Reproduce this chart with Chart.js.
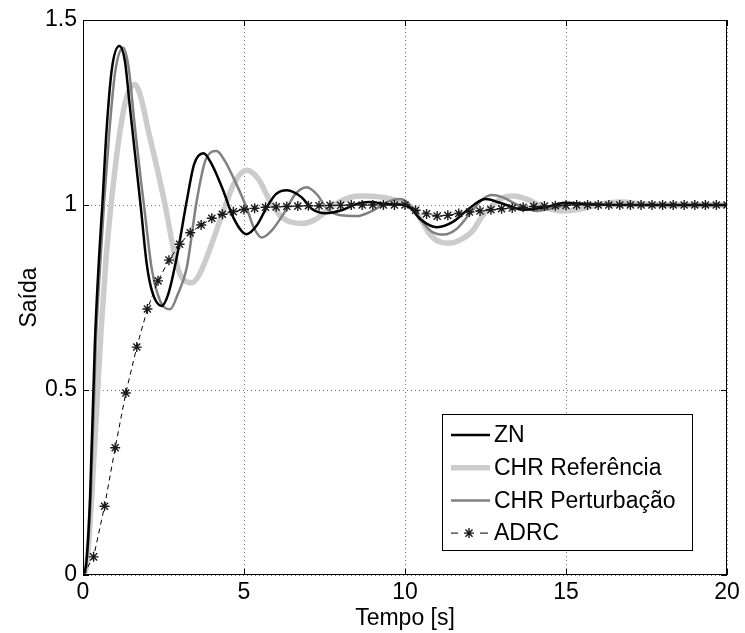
<!DOCTYPE html>
<html>
<head>
<meta charset="utf-8">
<script src="https://cdn.jsdelivr.net/npm/chart.js@4.4.0/dist/chart.umd.min.js"></script>
<style>
  html, body { margin: 0; padding: 0; background: #fff; }
  #wrap { width: 745px; height: 633px; }
</style>
</head>
<body>
<div id="wrap"><canvas id="chart" width="745" height="633"></canvas></div>
<script>
// axis ticks
const xTicks = [0, 5, 10, 15, 20];
const yTicks = [0, 0.5, 1, 1.5];
const seriesNames = ["ZN", "CHR Referência", "CHR Perturbação", "ADRC"];

// ZN
const tZN = [0, 0.1, 0.22, 0.37, 0.5, 0.6, 0.73, 0.9, 1.13, 1.3, 1.45, 1.65, 1.8, 1.98, 2.15, 2.44, 2.65, 2.91, 3.22, 3.45, 3.74, 4.0, 4.36, 4.67, 5.08, 5.4, 5.7, 6.0, 6.33, 6.8, 7.1, 7.55, 8.0, 8.5, 8.9, 9.5, 10.0, 10.2, 10.5, 11.0, 11.5, 11.9, 12.5, 12.95, 13.7, 14.3, 15.0, 15.6, 16.5, 20];
const yZN = [0, 0.03, 0.21, 0.63, 0.86, 1.0, 1.2, 1.37, 1.43, 1.39, 1.27, 1.11, 0.99, 0.84, 0.765, 0.727, 0.76, 0.858, 1.01, 1.11, 1.14, 1.11, 1.038, 0.966, 0.921, 0.945, 0.993, 1.03, 1.04, 1.02, 0.99, 0.978, 0.985, 1.003, 1.008, 1.002, 1.0, 0.99, 0.96, 0.94, 0.955, 0.984, 1.016, 1.006, 0.987, 0.993, 1.006, 1.002, 1.0, 1.0];

// CHR Referência
const tRef = [0, 0.12, 0.27, 0.56, 0.72, 0.87, 1.15, 1.35, 1.61, 1.8, 2.03, 2.3, 2.55, 2.91, 3.1, 3.38, 3.6, 3.84, 4.1, 4.36, 4.7, 5.08, 5.45, 5.81, 6.2, 6.8, 7.2, 7.57, 8.0, 8.6, 9.2, 9.84, 10.25, 10.5, 10.78, 11.1, 11.4, 11.7, 12.1, 12.4, 12.73, 13.0, 13.35, 13.8, 14.3, 14.9, 15.5, 16.1, 16.7, 17.5, 18.5, 20];
const yRef = [0, 0.03, 0.21, 0.66, 0.86, 1.0, 1.2, 1.29, 1.326, 1.29, 1.2, 1.1, 1.0, 0.84, 0.8, 0.79, 0.81, 0.858, 0.92, 0.984, 1.06, 1.094, 1.07, 1.01, 0.965, 0.95, 0.96, 0.984, 1.01, 1.024, 1.022, 1.01, 0.99, 0.96, 0.92, 0.9, 0.897, 0.905, 0.93, 0.97, 1.0, 1.018, 1.024, 1.015, 0.995, 0.984, 0.99, 1.003, 1.008, 1.002, 1.0, 1.0];

// CHR Perturbação
const tPert = [0, 0.1, 0.24, 0.4, 0.52, 0.65, 0.82, 1.0, 1.25, 1.42, 1.6, 1.78, 1.92, 2.13, 2.4, 2.7, 2.95, 3.22, 3.53, 3.8, 4.15, 4.4, 4.67, 5.08, 5.3, 5.55, 5.85, 6.22, 6.6, 6.95, 7.3, 7.57, 8.0, 8.5, 9.0, 9.5, 9.85, 10.1, 10.4, 10.8, 11.2, 11.6, 12.0, 12.4, 12.7, 13.0, 13.5, 14.1, 14.7, 15.5, 16.3, 17, 20];
const yPert = [0, 0.03, 0.21, 0.63, 0.82, 1.0, 1.2, 1.36, 1.425, 1.37, 1.22, 1.08, 0.98, 0.83, 0.74, 0.718, 0.76, 0.83, 1.01, 1.12, 1.146, 1.12, 1.074, 0.993, 0.94, 0.912, 0.93, 0.975, 1.03, 1.048, 1.025, 0.99, 0.972, 0.97, 0.985, 1.01, 1.016, 1.005, 0.97, 0.93, 0.92, 0.935, 0.975, 1.015, 1.027, 1.022, 1.0, 0.984, 0.994, 1.005, 1.001, 1.0, 1.0];

// ADRC (marker samples)
const tADRC = [0, 0.33, 0.67, 1, 1.33, 1.67, 2, 2.33, 2.67, 3, 3.33, 3.67, 4, 4.33, 4.67, 5, 5.33, 5.67, 6, 6.33, 6.67, 7, 7.33, 7.67, 8, 8.33, 8.67, 9, 9.33, 9.67, 10, 10.33, 10.67, 11, 11.33, 11.67, 12, 12.33, 12.67, 13, 13.33, 13.67, 14, 14.33, 14.67, 15, 15.33, 15.67, 16, 16.33, 16.67, 17, 17.33, 17.67, 18, 18.33, 18.67, 19, 19.33, 19.67, 20];
const yADRC = [0, 0.049, 0.186, 0.344, 0.492, 0.616, 0.719, 0.795, 0.851, 0.894, 0.925, 0.946, 0.964, 0.975, 0.982, 0.988, 0.991, 0.994, 0.995, 0.996, 0.997, 0.998, 0.998, 0.999, 0.999, 1.0, 1.0, 1.0, 1.0, 1.0, 1.0, 0.986, 0.976, 0.97, 0.972, 0.977, 0.981, 0.984, 0.987, 0.99, 0.992, 0.994, 0.996, 0.997, 0.998, 0.999, 1.0, 1.0, 1.0, 1.0, 1.0, 1.0, 1.0, 1.0, 1.0, 1.0, 1.0, 1.0, 1.0, 1.0, 1.0];

const pts = (t, y) => t.map((v, i) => ({ x: v, y: y[i] }));
const FONT = "'Liberation Sans', Arial, Helvetica, sans-serif";

function drawStar(ctx, x, y, r) {
  ctx.beginPath();
  ctx.moveTo(x - r, y); ctx.lineTo(x + r, y);
  ctx.moveTo(x, y - r); ctx.lineTo(x, y + r);
  const d = r * 0.7071;
  ctx.moveTo(x - d, y - d); ctx.lineTo(x + d, y + d);
  ctx.moveTo(x - d, y + d); ctx.lineTo(x + d, y - d);
  ctx.stroke();
}

// box, inward ticks and legend, MATLAB style
const matlabFrame = {
  id: "matlabFrame",
  afterDraw(chart) {
    const { ctx, chartArea: a, scales } = chart;
    ctx.save();
    ctx.strokeStyle = "#000";
    ctx.lineWidth = 1;
    ctx.setLineDash([]);
    ctx.strokeRect(a.left + 0.5, a.top + 0.5, a.right - a.left - 1, a.bottom - a.top - 1);
    const tl = 6;
    ctx.beginPath();
    xTicks.forEach(v => {
      const px = Math.round(scales.x.getPixelForValue(v)) + 0.5;
      ctx.moveTo(px, a.bottom); ctx.lineTo(px, a.bottom - tl);
      ctx.moveTo(px, a.top); ctx.lineTo(px, a.top + tl);
    });
    yTicks.forEach(v => {
      const py = Math.round(scales.y.getPixelForValue(v)) + 0.5;
      ctx.moveTo(a.left, py); ctx.lineTo(a.left + tl, py);
      ctx.moveTo(a.right, py); ctx.lineTo(a.right - tl, py);
    });
    ctx.stroke();

    // legend
    const lx = 442, ly = 414, lw = 250, lh = 136;
    ctx.fillStyle = "#fff";
    ctx.fillRect(lx, ly, lw, lh);
    ctx.strokeRect(lx + 0.5, ly + 0.5, lw, lh);
    ctx.font = "23px " + FONT;
    ctx.textBaseline = "middle";
    ctx.textAlign = "left";
    chart.data.datasets.forEach((ds, i) => {
      const y = ly + 21 + i * 32.7;
      ctx.strokeStyle = ds.borderColor;
      ctx.lineWidth = ds.borderWidth;
      ctx.beginPath();
      if (ds.borderDash) {
        ctx.moveTo(lx + 9, y); ctx.lineTo(lx + 16, y);
        ctx.moveTo(lx + 38, y); ctx.lineTo(lx + 46, y);
        ctx.stroke();
        ctx.strokeStyle = ds.pointBorderColor;
        ctx.lineWidth = ds.pointBorderWidth;
        drawStar(ctx, lx + 27, y, ds.pointRadius);
      } else {
        ctx.moveTo(lx + 9, y); ctx.lineTo(lx + 48, y);
        ctx.stroke();
      }
      ctx.fillStyle = "#000";
      ctx.fillText(ds.label, lx + 52, y + 1);
    });
    ctx.restore();
  }
};

new Chart(document.getElementById("chart"), {
  type: "line",
  data: {
    datasets: [
      {
        label: seriesNames[0], data: pts(tZN, yZN), order: 2,
        borderColor: "#000000", borderWidth: 2.5, pointRadius: 0,
        cubicInterpolationMode: "monotone", fill: false
      },
      {
        label: seriesNames[1], data: pts(tRef, yRef), order: 4,
        borderColor: "#cccccc", borderWidth: 5.5, pointRadius: 0,
        cubicInterpolationMode: "monotone", fill: false
      },
      {
        label: seriesNames[2], data: pts(tPert, yPert), order: 3,
        borderColor: "#808080", borderWidth: 2.5, pointRadius: 0,
        cubicInterpolationMode: "monotone", fill: false
      },
      {
        label: seriesNames[3], data: pts(tADRC, yADRC), order: 1,
        borderColor: "#000000", borderWidth: 1, borderDash: [5, 4],
        pointStyle: "star", pointRadius: 5, pointBorderWidth: 1.4,
        pointBorderColor: "#1a1a1a", pointBackgroundColor: "#1a1a1a",
        tension: 0, fill: false
      }
    ]
  },
  options: {
    responsive: false,
    animation: false,
    devicePixelRatio: 1,
    layout: { padding: { top: 20, right: 18, bottom: 0, left: 0 } },
    plugins: { legend: { display: false }, tooltip: { enabled: false } },
    scales: {
      x: {
        type: "linear", min: 0, max: 20,
        afterFit: s => { s.height = 58; },
        afterBuildTicks: s => { s.ticks = xTicks.map(v => ({ value: v })); },
        ticks: { color: "#000", font: { family: FONT, size: 23 }, padding: 4, maxRotation: 0,
                 callback: v => String(v) },
        grid: { color: "#777", lineWidth: 1, drawTicks: false },
        border: { display: false, dash: [1, 3] },
        title: { display: true, text: "Tempo [s]", color: "#000",
                 font: { family: FONT, size: 23 }, padding: { top: 0, bottom: 1 } }
      },
      y: {
        type: "linear", min: 0, max: 1.5,
        afterFit: s => { s.width = 83; },
        afterBuildTicks: s => { s.ticks = yTicks.map(v => ({ value: v })); },
        ticks: { color: "#000", font: { family: FONT, size: 23 }, padding: 6,
                 callback: v => String(v) },
        grid: { color: "#777", lineWidth: 1, drawTicks: false },
        border: { display: false, dash: [1, 3] },
        title: { display: true, text: "Saída", color: "#000",
                 font: { family: FONT, size: 23 }, padding: { top: 16, bottom: 0 } }
      }
    }
  },
  plugins: [matlabFrame]
});
</script>
</body>
</html>
